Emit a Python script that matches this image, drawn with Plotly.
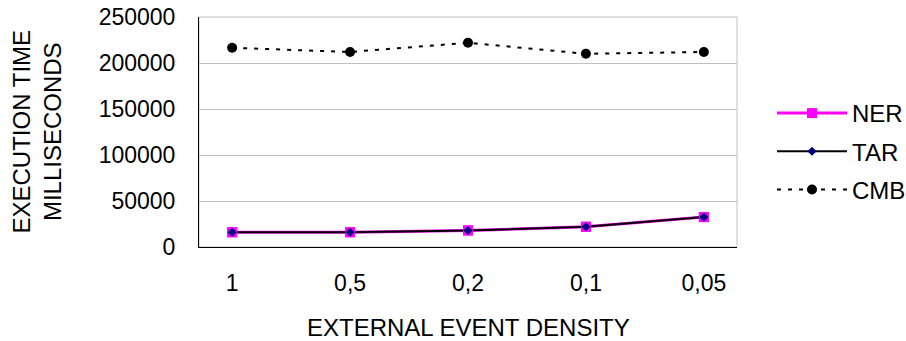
import plotly.graph_objects as go

# Execution time (ms) by external event density
density = ["1", "0,5", "0,2", "0,1", "0,05"]
ner = [16000, 16000, 18000, 22000, 32500]
tar = [16000, 16000, 18000, 22000, 32500]
cmb = [216500, 212000, 222000, 210000, 212000]

FONT = "Liberation Sans, Arial, sans-serif"

fig = go.Figure()

# lines with legend entries (one legend group each, for spacing)
fig.add_trace(go.Scatter(
    x=density, y=ner, name="NER", mode="lines+markers", legendgroup="ner",
    line=dict(color="#ff00ff", width=3),
    marker=dict(symbol="square", size=10, color="#ff00ff"),
))
fig.add_trace(go.Scatter(
    x=density, y=tar, name="TAR", mode="lines+markers", legendgroup="tar",
    line=dict(color="#000000", width=2),
    marker=dict(symbol="diamond", size=7, color="#000080"),
))
fig.add_trace(go.Scatter(
    x=density, y=cmb, name="CMB", mode="lines+markers", legendgroup="cmb",
    line=dict(color="#000000", width=2, dash="4px,7px"),
    marker=dict(symbol="circle", size=10, color="#000000"),
))
# markers drawn again above the overlapping lines
fig.add_trace(go.Scatter(
    x=density, y=ner, mode="markers", showlegend=False, hoverinfo="skip",
    marker=dict(symbol="square", size=10, color="#ff00ff"),
))
fig.add_trace(go.Scatter(
    x=density, y=tar, mode="markers", showlegend=False, hoverinfo="skip",
    marker=dict(symbol="diamond", size=7, color="#000080"),
))

L, R, T, B = 199, 169, 17, 94
W, H = 906, 341
pw = W - L - R
ph = H - T - B

fig.update_layout(
    width=W, height=H,
    margin=dict(l=L, r=R, t=T, b=B, autoexpand=False),
    paper_bgcolor="white", plot_bgcolor="white",
    font=dict(family=FONT, size=23, color="#000000"),
    showlegend=True,
    legend=dict(
        x=(772 - L) / pw, xanchor="left",
        y=(H - B - 91) / ph, yanchor="top",
        itemwidth=70, tracegroupgap=4,
        font=dict(size=24),
        bgcolor="rgba(0,0,0,0)",
    ),
    xaxis=dict(
        type="category",
        showgrid=False, zeroline=False,
        showline=True, linecolor="#000000", linewidth=1,
        ticks="", ticklabelstandoff=15,
        tickfont=dict(size=23),
    ),
    yaxis=dict(
        range=[0, 250000], dtick=50000, tickformat="d",
        showgrid=True, gridcolor="#c0c0c0", gridwidth=1,
        zeroline=False,
        showline=True, linecolor="#000000", linewidth=1,
        ticks="", ticklabelstandoff=18,
        tickfont=dict(size=23),
    ),
    shapes=[dict(
        type="rect", xref="paper", yref="paper", x0=0, x1=1, y0=0, y1=1,
        line=dict(color="#c0c0c0", width=1), layer="below",
    )],
    annotations=[
        dict(
            text="EXECUTION TIME<br>MILLISECONDS",
            xref="paper", yref="paper",
            x=(36.5 - L) / pw, y=0.5, xanchor="center", yanchor="middle",
            textangle=-90, showarrow=False,
            font=dict(size=24), align="center",
        ),
        dict(
            text="EXTERNAL EVENT DENSITY",
            xref="paper", yref="paper",
            x=0.5, y=(H - B - 327.6) / ph, xanchor="center", yanchor="middle",
            showarrow=False, font=dict(size=24),
        ),
    ],
)

fig.write_html("out.html")
